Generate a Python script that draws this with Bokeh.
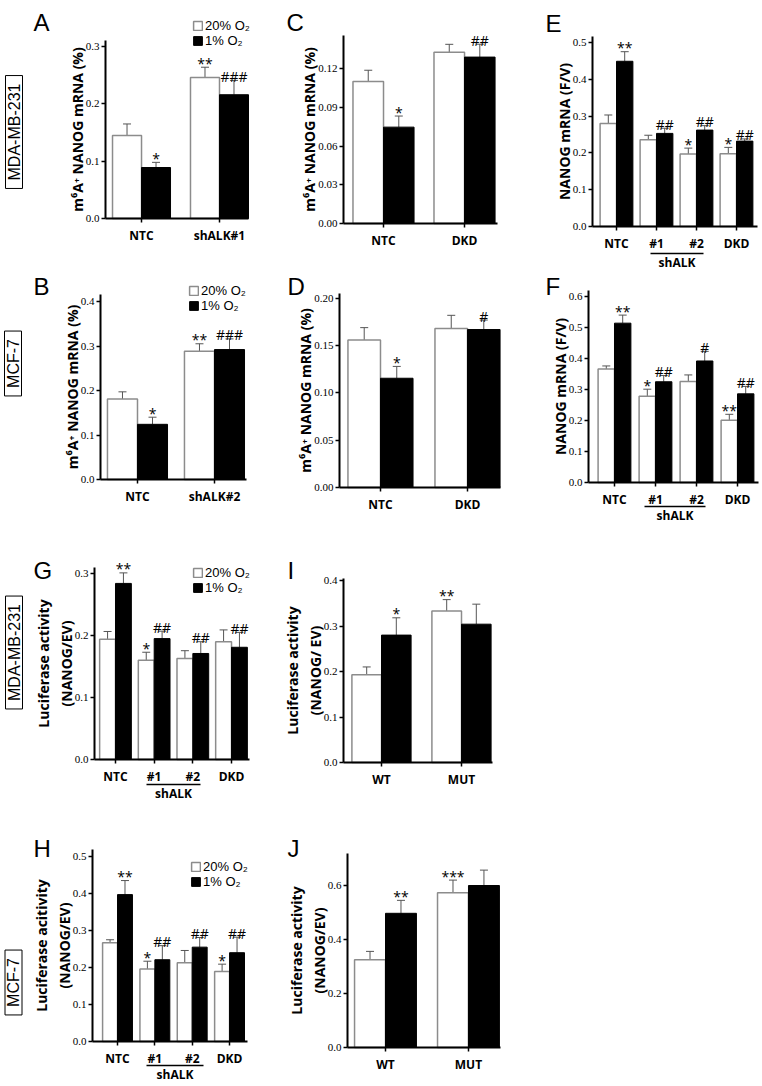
import numpy as np
from bokeh.plotting import figure
from bokeh.models import (Range1d, LinearAxis, FixedTicker, PrintfTickFormatter, Whisker,
                          TeeHead, Label, Legend, LegendItem, ColumnDataSource)
from bokeh.layouts import row, column
from bokeh.core.properties import value
from bokeh.embed import file_html
from bokeh.resources import INLINE

# ---------------- data ----------------
A_groups = ["NTC", "shALK#1"]
A_white = [0.145, 0.246]
A_white_err = [0.020, 0.018]
A_black = [0.089, 0.216]
A_black_err = [0.009, 0.025]
A_white_marks = ["", "**"]
A_black_marks = ["*", "###"]

B_groups = ["NTC", "shALK#2"]
B_white = [0.181, 0.288]
B_white_err = [0.016, 0.017]
B_black = [0.124, 0.292]
B_black_err = [0.016, 0.024]
B_white_marks = ["", "**"]
B_black_marks = ["*", "###"]

C_groups = ["NTC", "DKD"]
C_white = [0.110, 0.1327]
C_white_err = [0.0088, 0.0062]
C_black = [0.0747, 0.129]
C_black_err = [0.0086, 0.010]
C_white_marks = ["", ""]
C_black_marks = ["*", "##"]

D_groups = ["NTC", "DKD"]
D_white = [0.156, 0.168]
D_white_err = [0.013, 0.014]
D_black = [0.1155, 0.167]
D_black_err = [0.0125, 0.010]
D_white_marks = ["", ""]
D_black_marks = ["*", "#"]

E_groups = ["NTC", "#1", "#2", "DKD"]
E_white = [0.280, 0.236, 0.197, 0.198]
E_white_err = [0.023, 0.012, 0.016, 0.017]
E_black = [0.449, 0.253, 0.262, 0.232]
E_black_err = [0.026, 0.014, 0.012, 0.006]
E_white_marks = ["", "", "*", "*"]
E_black_marks = ["**", "##", "##", "##"]

F_groups = ["NTC", "#1", "#2", "DKD"]
F_white = [0.366, 0.278, 0.326, 0.201]
F_white_err = [0.010, 0.023, 0.021, 0.019]
F_black = [0.514, 0.325, 0.392, 0.286]
F_black_err = [0.026, 0.020, 0.031, 0.024]
F_white_marks = ["", "*", "", "**"]
F_black_marks = ["**", "##", "#", "##"]

G_groups = ["NTC", "#1", "#2", "DKD"]
G_white = [0.194, 0.160, 0.163, 0.190]
G_white_err = [0.0125, 0.013, 0.0125, 0.019]
G_black = [0.284, 0.195, 0.171, 0.181]
G_black_err = [0.017, 0.012, 0.019, 0.024]
G_white_marks = ["", "*", "", ""]
G_black_marks = ["**", "##", "##", "##"]

H_groups = ["NTC", "#1", "#2", "DKD"]
H_white = [0.267, 0.196, 0.213, 0.189]
H_white_err = [0.008, 0.021, 0.033, 0.020]
H_black = [0.397, 0.221, 0.255, 0.240]
H_black_err = [0.038, 0.038, 0.026, 0.042]
H_white_marks = ["", "*", "", "*"]
H_black_marks = ["**", "##", "##", "##"]

I_groups = ["WT", "MUT"]
I_white = [0.193, 0.333]
I_white_err = [0.017, 0.025]
I_black = [0.280, 0.304]
I_black_err = [0.038, 0.044]
I_white_marks = ["", "**"]
I_black_marks = ["*", ""]

J_groups = ["WT", "MUT"]
J_white = [0.325, 0.573]
J_white_err = [0.031, 0.047]
J_black = [0.497, 0.600]
J_black_err = [0.048, 0.057]
J_white_marks = ["", "***"]
J_black_marks = ["**", ""]

legend_labels = ["20% O\u2082", "1% O\u2082"]
m6a_label = "m\u2076A\u207a NANOG mRNA (%)"
fv_label = "NANOG mRNA (F/V)"
luc_label = "Luciferase activity\n(NANOG/EV)"
luc_label_h = "Luciferase acitivity\n(NANOG/EV)"
luc_label_i = "Luciferase activity\n(NANOG/ EV)"

# ---------------- styles ----------------
LABEL_FONT = "Open Sans"
TICK_FONT = "Liberation Sans Narrow"
LETTER_FONT = "Liberation Sans"
WHITE_LINE = "#8c8c8c"
ERR_COLOR = "#555555"


def make_panel(groups, white, white_err, black, black_err, wmarks, bmarks,
               fig, frame, ppu, xr, bw, yticks, yfmt, axis_top, ylabel,
               letter, letter_pos, legend_pos=None, side=None, underline=None):
    fx0, fy0, fx1, fy1 = fig
    l, r, b = frame          # page x of y axis, page x of x-axis end, page y of value 0
    n = len(groups)
    ppx = (r - l) / (xr[1] - xr[0])
    xs = xr[0] - (l - fx0) / ppx
    xe = xr[1] + (fx1 - r) / ppx
    y_end = (b - fy0) / ppu
    y_start = -(fy1 - b) / ppu
    p = figure(width=fx1 - fx0, height=fy1 - fy0,
               x_range=Range1d(xs, xe), y_range=Range1d(y_start, y_end),
               min_border_left=0, min_border_right=0,
               min_border_top=0, min_border_bottom=0,
               toolbar_location=None, output_backend="svg")
    p.grid.visible = False
    p.outline_line_color = None
    p.background_fill_color = "white"
    p.border_fill_color = "white"

    pos = np.arange(n, dtype=float)
    xw = pos - bw / 2
    xb = pos + bw / 2
    w = np.array(white)
    we = np.array(white_err)
    bl = np.array(black)
    be = np.array(black_err)

    rw = p.vbar(x=xw, top=w, bottom=0, width=bw, fill_color="white",
                line_color=WHITE_LINE, line_width=1.5)
    rb = p.vbar(x=xb, top=bl, bottom=0, width=bw, fill_color="black",
                line_color="black", line_width=1)

    src_w = ColumnDataSource(dict(x=xw, lo=w - we, hi=w + we))
    src_b = ColumnDataSource(dict(x=xb, lo=bl, hi=bl + be))
    p.add_layout(Whisker(base="x", lower="lo", upper="hi", source=src_w,
                         line_color=ERR_COLOR, line_width=1,
                         upper_head=TeeHead(size=8, line_color=ERR_COLOR, line_width=1),
                         lower_head=TeeHead(size=8, line_color=ERR_COLOR, line_width=1)))
    p.add_layout(Whisker(base="x", lower="lo", upper="hi", source=src_b,
                         line_color=ERR_COLOR, line_width=1,
                         upper_head=TeeHead(size=8, line_color=ERR_COLOR, line_width=1),
                         lower_head=None))

    gap = 4.0 / ppu
    p.text(x=np.concatenate([xw, xb]), y=np.concatenate([w + we + gap, bl + be + gap]),
           text=list(wmarks) + list(bmarks), text_align="center",
           text_baseline="alphabetic", text_font=value(LABEL_FONT),
           text_font_size="14px", text_color="black")

    # x axis at value 0, limited to the plotted span
    xa = p.below[0]
    xa.fixed_location = 0
    xa.bounds = (xr[0], xr[1])
    xa.ticker = FixedTicker(ticks=list(pos))
    xa.major_label_overrides = {i: g for i, g in enumerate(groups)}
    xa.major_label_text_font = LABEL_FONT
    xa.major_label_text_font_style = "bold"
    xa.major_label_text_font_size = "12px"
    xa.major_label_text_color = "black"
    xa.major_label_standoff = 4
    xa.axis_line_width = 2
    xa.axis_line_color = "black"
    xa.major_tick_in = 0
    xa.major_tick_out = 4
    xa.major_tick_line_width = 1.5
    xa.minor_tick_out = 0
    xa.minor_tick_in = 0

    # y axis at the left end of the plotted span
    ya = p.left[0]
    ya.fixed_location = xr[0]
    ya.ticker = FixedTicker(ticks=yticks)
    ya.formatter = PrintfTickFormatter(format=yfmt)
    ya.bounds = (0, axis_top)
    ya.axis_label = ylabel
    ya.axis_label_text_font = LABEL_FONT
    ya.axis_label_text_font_style = "bold"
    ya.axis_label_text_font_size = "14px"
    ya.axis_label_text_color = "black"
    ya.axis_label_standoff = -4
    ya.major_label_text_font = TICK_FONT
    ya.major_label_text_font_size = "11px"
    ya.major_label_text_color = "black"
    ya.major_label_standoff = 2
    ya.axis_line_width = 2
    ya.axis_line_color = "black"
    ya.major_tick_in = 0
    ya.major_tick_out = 4
    ya.major_tick_line_width = 1.5
    ya.minor_tick_out = 0
    ya.minor_tick_in = 0

    if underline is not None:
        ul0, ul1, ul_off = underline
        ua = LinearAxis(ticker=FixedTicker(ticks=[]), bounds=(ul0, ul1), axis_label="shALK")
        ua.fixed_location = -ul_off / ppu
        ua.axis_line_width = 1.5
        ua.axis_line_color = "black"
        ua.major_tick_out = 0
        ua.major_tick_in = 0
        ua.minor_tick_out = 0
        ua.minor_tick_in = 0
        ua.major_label_standoff = 0
        ua.axis_label_standoff = 0
        ua.axis_label_text_font = LABEL_FONT
        ua.axis_label_text_font_style = "bold"
        ua.axis_label_text_font_size = "12px"
        ua.axis_label_text_color = "black"
        p.add_layout(ua, "below")

    # panel letter (screen units: from the frame's bottom-left, frame == whole figure)
    lx, ly = letter_pos
    p.add_layout(Label(x=lx - fx0, y=fy1 - ly, x_units="screen", y_units="screen",
                       text=letter, text_font=LETTER_FONT, text_font_size="24px",
                       text_baseline="alphabetic", text_align="left", text_color="black"))

    if legend_pos is not None:
        gx, gy = legend_pos
        leg = Legend(items=[LegendItem(label=legend_labels[0], renderers=[rw]),
                            LegendItem(label=legend_labels[1], renderers=[rb])],
                     location=(gx - fx0, fy1 - gy), orientation="vertical",
                     glyph_width=11, glyph_height=11, label_height=15,
                     label_standoff=2, spacing=0, padding=0, margin=0,
                     border_line_color=None, background_fill_alpha=0,
                     label_text_font="Liberation Sans", label_text_font_size="13px",
                     label_text_color="black")
        p.add_layout(leg)

    if side is not None:
        stext, sx, sy = side
        p.add_layout(Label(x=sx - fx0, y=fy1 - sy, x_units="screen", y_units="screen",
                           text="\u2002" + stext + "\u2002", angle=np.pi / 2,
                           text_align="center", text_baseline="middle",
                           text_font=LETTER_FONT, text_font_size="16px", text_color="black",
                           border_line_color="black", border_line_width=1,
                           background_fill_color="white", padding=0))
    return p


pA = make_panel(A_groups, A_white, A_white_err, A_black, A_black_err, A_white_marks, A_black_marks,
                fig=(0, 0, 258, 262), frame=(105, 248, 218), ppu=573,
                xr=(-0.462, 1.372), bw=0.372, yticks=[0.0, 0.1, 0.2, 0.3], yfmt="%.1f",
                axis_top=0.31, ylabel=m6a_label, letter="A", letter_pos=(33, 22),
                legend_pos=(192, 47.5), side=("MDA-MB-231", 13.5, 131.5))
pB = make_panel(B_groups, B_white, B_white_err, B_black, B_black_err, B_white_marks, B_black_marks,
                fig=(0, 262, 258, 545), frame=(100, 246, 479), ppu=445,
                xr=(-0.4805, 1.4156), bw=0.39, yticks=[0.0, 0.1, 0.2, 0.3, 0.4], yfmt="%.1f",
                axis_top=0.415, ylabel=m6a_label, letter="B", letter_pos=(33, 286),
                legend_pos=(188, 313), side=("MCF-7", 12.5, 363))
pG = make_panel(G_groups, G_white, G_white_err, G_black, G_black_err, G_white_marks, G_black_marks,
                fig=(0, 545, 258, 818), frame=(94, 249, 759), ppu=620,
                xr=(-0.543, 3.465), bw=0.41, yticks=[0.0, 0.1, 0.2, 0.3], yfmt="%.1f",
                axis_top=0.31, ylabel=luc_label, letter="G", letter_pos=(33, 570),
                legend_pos=(192, 595), side=("MDA-MB-231", 13.5, 652), underline=(0.8, 2.2, 25))
pH = make_panel(H_groups, H_white, H_white_err, H_black, H_black_err, H_white_marks, H_black_marks,
                fig=(0, 818, 258, 1084), frame=(92, 247, 1041), ppu=370,
                xr=(-0.67, 3.48), bw=0.40, yticks=[0.0, 0.1, 0.2, 0.3, 0.4, 0.5], yfmt="%.1f",
                axis_top=0.52, ylabel=luc_label_h, letter="H", letter_pos=(33, 848),
                legend_pos=(190, 889), side=("MCF-7", 13, 982), underline=(0.78, 2.3, 24))
pC = make_panel(C_groups, C_white, C_white_err, C_black, C_black_err, C_white_marks, C_black_marks,
                fig=(258, 0, 505, 262), frame=(343, 497, 223), ppu=1290,
                xr=(-0.494, 1.407), bw=0.377, yticks=[0.0, 0.03, 0.06, 0.09, 0.12], yfmt="%.2f",
                axis_top=0.146, ylabel=m6a_label, letter="C", letter_pos=(286, 22))
pD = make_panel(D_groups, D_white, D_white_err, D_black, D_black_err, D_white_marks, D_black_marks,
                fig=(258, 262, 505, 545), frame=(339, 500, 487), ppu=946,
                xr=(-0.471, 1.379), bw=0.374, yticks=[0.0, 0.05, 0.10, 0.15, 0.20], yfmt="%.2f",
                axis_top=0.205, ylabel=m6a_label, letter="D", letter_pos=(287, 286))
pI = make_panel(I_groups, I_white, I_white_err, I_black, I_black_err, I_white_marks, I_black_marks,
                fig=(258, 545, 505, 818), frame=(343, 492, 762), ppu=455,
                xr=(-0.475, 1.3875), bw=0.37, yticks=[0.0, 0.1, 0.2, 0.3, 0.4], yfmt="%.1f",
                axis_top=0.405, ylabel=luc_label_i, letter="I", letter_pos=(287, 570))
pJ = make_panel(J_groups, J_white, J_white_err, J_black, J_black_err, J_white_marks, J_black_marks,
                fig=(258, 818, 505, 1084), frame=(347, 500, 1047), ppu=270,
                xr=(-0.458, 1.386), bw=0.373, yticks=[0.0, 0.2, 0.4, 0.6], yfmt="%.1f",
                axis_top=0.72, ylabel=luc_label, letter="J", letter_pos=(287, 848))
pE = make_panel(E_groups, E_white, E_white_err, E_black, E_black_err, E_white_marks, E_black_marks,
                fig=(505, 0, 760, 269), frame=(592, 757, 226), ppu=368,
                xr=(-0.6, 3.525), bw=0.41, yticks=[0.0, 0.1, 0.2, 0.3, 0.4, 0.5], yfmt="%.1f",
                axis_top=0.515, ylabel=fv_label, letter="E", letter_pos=(545, 23),
                underline=(0.85, 2.18, 27))
pF = make_panel(F_groups, F_white, F_white_err, F_black, F_black_err, F_white_marks, F_black_marks,
                fig=(505, 269, 760, 545), frame=(588, 758, 482), ppu=310,
                xr=(-0.634, 3.512), bw=0.40, yticks=[0.0, 0.1, 0.2, 0.3, 0.4, 0.5, 0.6], yfmt="%.1f",
                axis_top=0.62, ylabel=fv_label, letter="F", letter_pos=(545, 286),
                underline=(0.73, 2.22, 24))

layout = row(column(pA, pB, pG, pH), column(pC, pD, pI, pJ), column(pE, pF))

with open("out.html", "w") as f:
    f.write(file_html(layout, INLINE))
